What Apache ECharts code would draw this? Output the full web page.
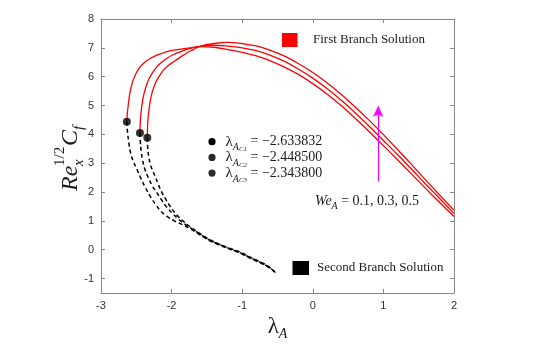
<!DOCTYPE html>
<html>
<head>
<meta charset="utf-8">
<script src="https://cdn.jsdelivr.net/npm/echarts@6/dist/echarts.min.js"></script>
<style>
  html, body { margin: 0; padding: 0; background: #fff; }
  #chart { width: 551px; height: 347px; }
</style>
</head>
<body>
<div id="chart"></div>
<script>
// axis ticks
var xTicks = [-3, -2, -1, 0, 1, 2];
var yTicks = [-1, 0, 1, 2, 3, 4, 5, 6, 7, 8];

// critical points (lambda_Ac, Re^1/2 Cf)
var critX = [-2.633832, -2.448500, -2.343800];
var critY = [4.44, 4.05, 3.88];
var critText = ['\u22122.633832', '\u22122.448500', '\u22122.343800'];

// first branch (solid red), We = 0.1, 0.3, 0.5
var first1 = [[-2.633832,4.44],[-2.628,4.7],[-2.615,5.0],[-2.59,5.45],[-2.555,5.8],[-2.515,6.06],[-2.46,6.3],[-2.40,6.46],[-2.31,6.62],[-2.21,6.75],[-2.09,6.85],[-1.97,6.92],[-1.74,7.0],[-1.6,7.04],[-1.4,7.02],[-1.2,6.94],[-1.0,6.84],[-0.8,6.72],[-0.6,6.55],[-0.4,6.33],[-0.2,6.07],[0,5.76],[0.2,5.4],[0.4,5.0],[0.6,4.56],[0.8,4.09],[1.0,3.61],[1.2,3.12],[1.4,2.62],[1.6,2.12],[1.8,1.63],[2,1.15]];
var first2 = [[-2.4485,4.05],[-2.444,4.4],[-2.434,4.73],[-2.42,5.02],[-2.40,5.31],[-2.37,5.6],[-2.33,5.88],[-2.28,6.1],[-2.21,6.34],[-2.14,6.5],[-2.07,6.63],[-1.98,6.76],[-1.88,6.86],[-1.75,6.97],[-1.6,7.05],[-1.4,7.09],[-1.2,7.06],[-1.0,7.0],[-0.8,6.9],[-0.6,6.74],[-0.4,6.53],[-0.2,6.26],[0,5.95],[0.2,5.59],[0.4,5.19],[0.6,4.75],[0.8,4.28],[1.0,3.79],[1.2,3.3],[1.4,2.79],[1.6,2.27],[1.8,1.77],[2,1.26]];
var first3 = [[-2.3438,3.88],[-2.341,4.2],[-2.336,4.5],[-2.32,4.85],[-2.30,5.19],[-2.27,5.5],[-2.23,5.77],[-2.18,6.0],[-2.115,6.23],[-2.05,6.38],[-1.97,6.52],[-1.88,6.67],[-1.78,6.83],[-1.7,6.93],[-1.6,7.05],[-1.4,7.15],[-1.2,7.19],[-1.0,7.15],[-0.8,7.065],[-0.6,6.91],[-0.4,6.71],[-0.2,6.45],[0,6.145],[0.2,5.79],[0.4,5.39],[0.6,4.95],[0.8,4.485],[1.0,3.99],[1.2,3.475],[1.4,2.95],[1.6,2.415],[1.8,1.89],[2,1.37]];

// second branch (dashed black)
var second1 = [[-2.633832,4.44],[-2.625,4.1],[-2.605,3.7],[-2.58,3.35],[-2.54,3.05],[-2.49,2.78],[-2.43,2.45],[-2.37,2.15],[-2.30,1.84],[-2.22,1.55],[-2.15,1.33],[-2.06,1.15],[-1.96,1.0],[-1.855,0.88],[-1.74,0.73],[-1.64,0.58],[-1.54,0.43],[-1.45,0.3],[-1.33,0.17],[-1.22,0.06],[-1.12,-0.03],[-1.03,-0.12],[-0.94,-0.23],[-0.84,-0.35],[-0.74,-0.46],[-0.65,-0.58],[-0.58,-0.69],[-0.51,-0.83]];
var second2 = [[-2.4485,4.05],[-2.443,3.75],[-2.43,3.4],[-2.41,3.1],[-2.38,2.8],[-2.33,2.5],[-2.27,2.2],[-2.21,1.98],[-2.14,1.72],[-2.07,1.48],[-1.99,1.27],[-1.92,1.1],[-1.855,0.96],[-1.74,0.77],[-1.64,0.61],[-1.54,0.45],[-1.45,0.32],[-1.33,0.19],[-1.22,0.08],[-1.12,-0.02],[-1.03,-0.1],[-0.94,-0.21],[-0.84,-0.33],[-0.74,-0.44],[-0.65,-0.56],[-0.59,-0.66],[-0.53,-0.78]];
var second3 = [[-2.3438,3.88],[-2.339,3.55],[-2.325,3.25],[-2.3,2.95],[-2.27,2.75],[-2.232,2.54],[-2.19,2.27],[-2.14,2.0],[-2.08,1.74],[-2.02,1.5],[-1.96,1.3],[-1.9,1.14],[-1.84,1.0],[-1.74,0.8],[-1.64,0.63],[-1.54,0.47],[-1.45,0.34],[-1.33,0.2],[-1.22,0.09],[-1.12,0.0],[-1.03,-0.08],[-0.94,-0.19],[-0.84,-0.31],[-0.74,-0.42],[-0.65,-0.54],[-0.6,-0.63],[-0.55,-0.74]];

// We arrow (lambda, from, to)
var arrowX = 0.926;
var arrowFrom = 2.36;
var arrowTo = 4.98;

var serif = '"Liberation Serif", "Times New Roman", serif';
var ink = '#1a1a1a';
var boxColor = '#888';

var chartDom = document.getElementById('chart');
var myChart = echarts.init(chartDom, null, { renderer: 'canvas' });

function redLine(data, extra) {
    var s = {
        name: 'First Branch Solution',
        type: 'line',
        data: data,
        smooth: 0.4,
        showSymbol: false,
        lineStyle: { color: '#ff0000', width: 1.3 },
        z: 3
    };
    return Object.assign(s, extra || {});
}

function dashLine(data) {
    return {
        name: 'Second Branch Solution',
        type: 'line',
        data: data,
        smooth: 0.4,
        showSymbol: false,
        lineStyle: { color: '#000', width: 1.5, type: [4, 3] },
        z: 2
    };
}

var axisBase = {
    axisLine: { show: true, onZero: false, lineStyle: { color: boxColor, width: 1 } },
    axisTick: { show: true, inside: true, length: 4, lineStyle: { color: boxColor } },
    splitLine: { show: false }
};

function mkAxis(o) {
    var a = JSON.parse(JSON.stringify(axisBase));
    return Object.assign(a, o);
}

// annotation rows
var annot = [];
critText.forEach(function(t, i) {
    var y = 141.7 + i * 15.7;
    annot.push({
        type: 'circle',
        shape: { cx: 212, cy: y, r: 3.6 },
        style: { fill: i === 0 ? '#000' : '#2b2b2b' }
    });
    annot.push({
        type: 'text',
        x: 225.5, y: y,
        style: {
            text: '{l|\u03bb}{a|A}{c|C' + (i + 1) + '}{t| = ' + t + '}',
            verticalAlign: 'middle',
            rich: {
                l: { font: '15px ' + serif, fill: ink, lineHeight: 22 },
                a: { font: 'italic 10px ' + serif, fill: ink, lineHeight: 13, verticalAlign: 'bottom' },
                c: { font: 'italic 7px ' + serif, fill: ink, lineHeight: 5, verticalAlign: 'bottom' },
                t: { font: '14px ' + serif, fill: ink, lineHeight: 22 }
            }
        }
    });
});

var option = {
    animation: false,
    backgroundColor: '#fff',
    grid: { left: 101, right: 97, top: 19, bottom: 54 },
    xAxis: [
        mkAxis({
            type: 'value', position: 'bottom', min: -3, max: 2,
            axisTick: { show: true, inside: true, length: 4, lineStyle: { color: boxColor }, customValues: xTicks },
            axisLabel: { show: true, margin: 7, color: '#333', fontSize: 11, fontFamily: '"Liberation Sans", Arial, sans-serif', customValues: xTicks },
            name: '{l|\u03bb}{s|A}',
            nameLocation: 'middle',
            nameGap: 20,
            nameTextStyle: {
                rich: {
                    l: { fontSize: 23, fontFamily: serif, color: ink, lineHeight: 27 },
                    s: { fontSize: 14, fontStyle: 'italic', fontFamily: serif, color: ink, lineHeight: 14, verticalAlign: 'bottom' }
                }
            }
        }),
        mkAxis({
            type: 'value', position: 'top', min: -3, max: 2,
            axisTick: { show: true, inside: true, length: 4, lineStyle: { color: boxColor }, customValues: xTicks },
            axisLabel: { show: false }
        })
    ],
    yAxis: [
        mkAxis({
            type: 'value', position: 'left', min: -1.5, max: 8,
            axisTick: { show: true, inside: true, length: 4, lineStyle: { color: boxColor }, customValues: yTicks },
            axisLabel: { show: true, margin: 7, color: '#333', fontSize: 11, fontFamily: '"Liberation Sans", Arial, sans-serif', customValues: yTicks }
        }),
        mkAxis({
            type: 'value', position: 'right', min: -1.5, max: 8,
            axisTick: { show: true, inside: true, length: 4, lineStyle: { color: boxColor }, customValues: yTicks },
            axisLabel: { show: false }
        })
    ],
    series: [
        dashLine(second1),
        dashLine(second2),
        dashLine(second3),
        redLine(first1),
        redLine(first2),
        redLine(first3, {
            markLine: {
                silent: true,
                symbol: ['none', 'arrow'],
                symbolSize: [8, 11],
                label: { show: false },
                lineStyle: { color: '#ff00ff', width: 1.2, type: 'solid' },
                data: [[{ coord: [arrowX, arrowFrom] }, { coord: [arrowX, arrowTo] }]]
            }
        }),
        {
            name: 'critical',
            type: 'scatter',
            data: critX.map(function(x, i) { return [x, critY[i]]; }),
            symbolSize: 8,
            itemStyle: { color: '#000' },
            z: 5
        }
    ],
    graphic: [
        // legend boxes
        { type: 'rect', shape: { x: 282, y: 33, width: 15.5, height: 14 }, style: { fill: '#ff0000' } },
        { type: 'text', x: 313, y: 40, style: { text: 'First Branch Solution', font: '13px ' + serif, fill: ink, verticalAlign: 'middle' } },
        { type: 'rect', shape: { x: 292.5, y: 261, width: 16.5, height: 14 }, style: { fill: '#000' } },
        { type: 'text', x: 317, y: 268, style: { text: 'Second Branch Solution', font: '13px ' + serif, fill: ink, verticalAlign: 'middle' } },
        // We label
        {
            type: 'text', x: 315, y: 201,
            style: {
                text: '{w|We}{a|A}{t| = 0.1, 0.3, 0.5}',
                verticalAlign: 'middle',
                rich: {
                    w: { font: 'italic 14px ' + serif, fill: ink, lineHeight: 20 },
                    a: { font: 'italic 10px ' + serif, fill: ink, lineHeight: 11, verticalAlign: 'bottom' },
                    t: { font: '14px ' + serif, fill: ink, lineHeight: 20 }
                }
            }
        },
        // y axis title Re_x^{1/2} C_f
        {
            type: 'group', x: 71, y: 154, rotation: Math.PI / 2,
            children: [
                { type: 'text', x: -37, y: 0, style: { text: 'Re', font: 'italic 24px ' + serif, fill: ink, verticalAlign: 'middle' } },
                { type: 'text', x: -12, y: 8, style: { text: 'x', font: 'italic 15px ' + serif, fill: ink, verticalAlign: 'middle' } },
                { type: 'text', x: -12, y: -11, style: { text: '1/2', font: '15px ' + serif, fill: ink, verticalAlign: 'middle' } },
                { type: 'text', x: 8, y: 0, style: { text: 'C', font: 'italic 24px ' + serif, fill: ink, verticalAlign: 'middle' } },
                { type: 'text', x: 24, y: 8, style: { text: 'f', font: 'italic 15px ' + serif, fill: ink, verticalAlign: 'middle' } }
            ]
        }
    ].concat(annot)
};

option && myChart.setOption(option);
</script>
</body>
</html>
